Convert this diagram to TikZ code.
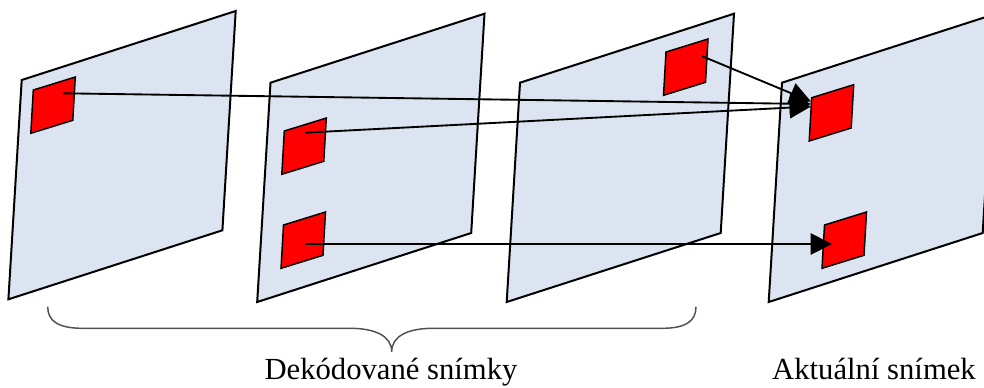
\documentclass[tikz,border=0pt]{standalone}
\usepackage{fontspec}
\setmainfont{Liberation Serif}
\usetikzlibrary{arrows.meta}
\definecolor{framefill}{HTML}{DBE4F0}
\definecolor{bracegray}{HTML}{505050}
\tikzset{
  framebox/.style={draw=black, fill=framefill, line width=1.5pt, line join=miter},
  redblk/.style={draw=black, fill=red, line width=1.1pt, line join=miter},
  motion/.style={draw=black, line width=1.4pt, -{Triangle[length=16pt,width=16pt]}},
  bracepath/.style={draw=bracegray, line width=1.1pt},
  caption/.style={font=\fontsize{23pt}{27pt}\selectfont, inner sep=0pt, anchor=base}
}
\newcommand\myframe[1]{\path[framebox] (#1) -- ++(214,-69) -- ++(-13.3,219.3) -- ++(-214,69) -- cycle;}
\newcommand\myblock[1]{\path[redblk] (#1) -- ++(42,-13) -- ++(-2.5,43.3) -- ++(-42,13) -- cycle;}
\begin{document}
\begin{tikzpicture}[x=0.75pt,y=-0.75pt]
\useasboundingbox (0,0) rectangle (984,387);
\begin{scope}
\clip (0,0) rectangle (984,387);
% frames
\myframe{21.7,80}
\myframe{270.5,82.7}
\myframe{520,82.7}
\myframe{782,82.7}
% red blocks
\myblock{33.3,90}
\myblock{284.3,131}
\myblock{283.5,225}
\myblock{666,52}
\myblock{811.7,97.7}
\myblock{824.5,225}
\end{scope}
% arrow end points
\coordinate (s1) at (63.3,93.3);
\coordinate (s2a) at (305,132.7);
\coordinate (s2b) at (305,244);
\coordinate (s3) at (701.7,56);
\coordinate (t1) at (811,104);
\coordinate (t2a) at (811,106.5);
\coordinate (t3) at (811,101.5);
\coordinate (t2b) at (832,244);
\draw[motion] (s1) -- (t1);
\draw[motion] (s2a) -- (t2a);
\draw[motion] (s3) -- (t3);
\draw[motion] (s2b) -- (t2b);
% brace
\coordinate (bl) at (47.7,306.7);
\coordinate (br) at (696,306.7);
\coordinate (btip) at (391.7,351.7);
\draw[bracepath] (bl) .. controls (47.7,321) and (58,328.3) .. (83,328.3)
  -- (350,328.3) .. controls (375,328.3) and (391.7,336) .. (btip)
  .. controls (391.7,336) and (408,328.3) .. (433,328.3)
  -- (662,328.3) .. controls (686,328.3) and (696,321) .. (br);
% captions
\node[caption] (dec) at (391,379.5) {Dekódované snímky};
\node[caption] (cur) at (874,379.5) {Aktuální snímek};
\end{tikzpicture}
\end{document}
